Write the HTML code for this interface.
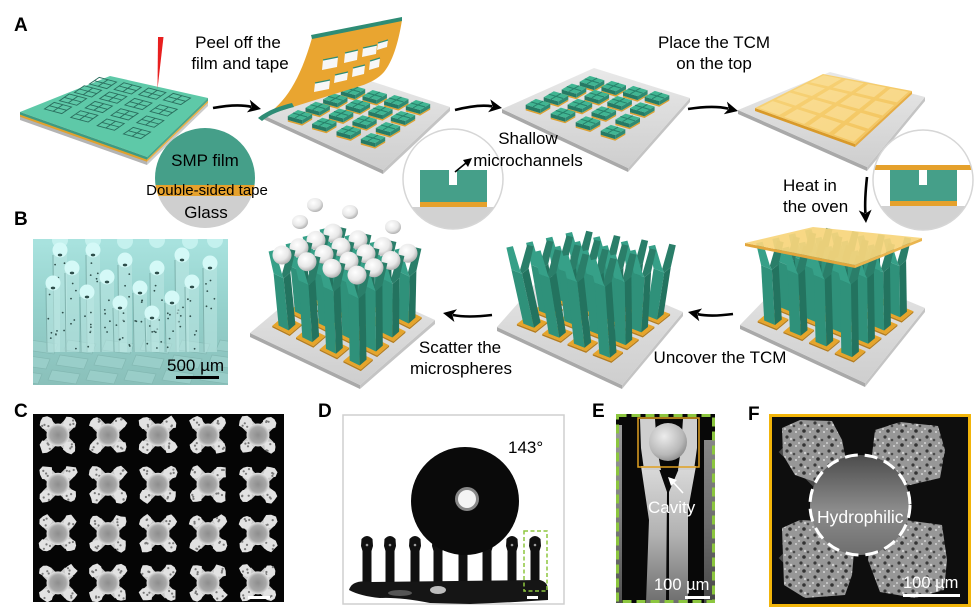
<!DOCTYPE html>
<html><head><meta charset="utf-8"><title>Figure</title>
<style>
html,body{margin:0;padding:0;background:#fff;width:975px;height:609px;overflow:hidden}
svg{display:block}
text{font-family:"Liberation Sans",Arial,sans-serif;}
</style></head><body>
<svg width="975" height="609" viewBox="0 0 975 609" xmlns="http://www.w3.org/2000/svg">
<defs>
<linearGradient id="gplate" x1="0" y1="0" x2="0" y2="1"><stop offset="0" stop-color="#e9e9e9"/><stop offset="1" stop-color="#cecece"/></linearGradient>
<linearGradient id="gtcm" x1="0" y1="0" x2="1" y2="1"><stop offset="0" stop-color="#f8d67e"/><stop offset="1" stop-color="#f2c158"/></linearGradient>
<radialGradient id="gsph" cx="0.4" cy="0.35" r="0.7"><stop offset="0" stop-color="#ffffff"/><stop offset="0.6" stop-color="#e8e8e8"/><stop offset="1" stop-color="#a8a8a8"/></radialGradient>
<radialGradient id="gcs" cx="0.5" cy="0.5" r="0.5"><stop offset="0" stop-color="#8e8e8e"/><stop offset="0.7" stop-color="#a8a8a8"/><stop offset="0.9" stop-color="#cfcfcf"/><stop offset="1" stop-color="#e6e6e6"/></radialGradient>
<linearGradient id="gB" x1="0" y1="0" x2="0" y2="1"><stop offset="0" stop-color="#a9e3df"/><stop offset="0.5" stop-color="#94d0cb"/><stop offset="1" stop-color="#8ac0ba"/></linearGradient>
<linearGradient id="gleg" x1="0" y1="0" x2="0" y2="1"><stop offset="0" stop-color="#dadada"/><stop offset="0.5" stop-color="#b2b2b2"/><stop offset="1" stop-color="#6e6e6e"/></linearGradient>
<linearGradient id="gFs" x1="0" y1="0" x2="0" y2="1"><stop offset="0" stop-color="#4c4c4c"/><stop offset="0.55" stop-color="#8c8c8c"/><stop offset="1" stop-color="#6e6e6e"/></linearGradient>
<radialGradient id="gEs" cx="0.4" cy="0.35" r="0.7"><stop offset="0" stop-color="#ececec"/><stop offset="0.7" stop-color="#b8b8b8"/><stop offset="1" stop-color="#8a8a8a"/></radialGradient>
<pattern id="tex" width="14" height="14" patternUnits="userSpaceOnUse">
 <rect width="14" height="14" fill="#979797"/>
 <circle cx="3" cy="3" r="1.6" fill="#3a3a3a"/><circle cx="10" cy="6" r="1.3" fill="#4a4a4a"/><circle cx="6" cy="11" r="1.8" fill="#333"/><circle cx="12" cy="12" r="1" fill="#d6d6d6"/><circle cx="7" cy="5" r="1.2" fill="#cfcfcf"/><circle cx="1" cy="9" r="1" fill="#d2d2d2"/>
</pattern>
<clipPath id="ci1"><circle cx="205" cy="178" r="50"/></clipPath>
<clipPath id="ci2"><circle cx="453" cy="179" r="50"/></clipPath>
<clipPath id="ci3"><circle cx="923" cy="180" r="50"/></clipPath>
<clipPath id="cB"><rect x="33" y="239" width="195" height="146"/></clipPath>
<clipPath id="cE"><rect x="616" y="414" width="99" height="189"/></clipPath>
</defs>
<g id="gen"></g>

<g font-weight="bold" font-size="19" fill="#000">
<text x="14" y="31">A</text>
<text x="14" y="225">B</text>
<text x="14" y="417">C</text>
<text x="318" y="417">D</text>
<text x="592" y="417">E</text>
<text x="748" y="420">F</text>
</g>
<g font-size="17" fill="#000" text-anchor="middle">
<text x="238" y="48">Peel off the</text>
<text x="240" y="69">film and tape</text>
<text x="714" y="48">Place the TCM</text>
<text x="714" y="69">on the top</text>
<text x="528" y="144">Shallow</text>
<text x="528" y="166">microchannels</text>
<text x="460" y="353">Scatter the</text>
<text x="461" y="374">microspheres</text>
<text x="720" y="363">Uncover the TCM</text>
<text x="205" y="166">SMP film</text>
<text x="207" y="195" font-size="15">Double-sided tape</text>
<text x="206" y="218">Glass</text>
</g>
<g font-size="17" fill="#000">
<text x="783" y="191">Heat in</text>
<text x="783" y="212">the oven</text>
<text x="508" y="453">143°</text>
<text x="167" y="371">500 µm</text>
</g>
<g font-size="17" fill="#fff">
<text x="648" y="513">Cavity</text>
<text x="654" y="590" font-size="16.5">100 µm</text>
<text x="817" y="523" font-size="17.5">Hydrophilic</text>
<text x="903" y="588" font-size="16.5">100 µm</text>
</g>
</svg>
<script>
(function(){
const o=[];
const f=v=>(Math.round(v*10)/10);
const P=a=>a.map(p=>f(p[0])+','+f(p[1])).join(' ');
const poly=(a,fill,ex)=>o.push('<polygon points="'+P(a)+'" fill="'+fill+'" '+(ex||'')+'/>');
const add=(a,b,k)=>{if(k===undefined)k=1;return [a[0]+b[0]*k,a[1]+b[1]*k];};
const sub=(a,b)=>[a[0]-b[0],a[1]-b[1]];
const sc=(a,k)=>[a[0]*k,a[1]*k];
const bil=(c00,c10,c11,c01,s,t)=>[(1-s)*(1-t)*c00[0]+s*(1-t)*c10[0]+s*t*c11[0]+(1-s)*t*c01[0],(1-s)*(1-t)*c00[1]+s*(1-t)*c10[1]+s*t*c11[1]+(1-s)*t*c01[1]];
let seed=12345;const rnd=()=>{seed=(seed*16807)%2147483647;return (seed-1)/2147483646;};

function plate(L,B,R,T,th){
 poly([L,B,add(B,[0,th]),add(L,[0,th])],'#a9a9a9');
 poly([B,R,add(R,[0,th]),add(B,[0,th])],'#c4c4c4');
 poly([L,B,R,T],'url(#gplate)');
}
function arrow(x1,y1,x2,y2,bend,hl,hw,sw){
 hl=hl||13;hw=hw||6.5;sw=sw||2.6;
 const mx=(x1+x2)/2,my=(y1+y2)/2,dx=x2-x1,dy=y2-y1,L=Math.hypot(dx,dy);
 const nx=-dy/L,ny=dx/L,cx=mx+nx*bend,cy=my+ny*bend;
 let ux=x2-cx,uy=y2-cy;const l=Math.hypot(ux,uy);ux/=l;uy/=l;
 const bx=x2-ux*hl,by=y2-uy*hl;
 o.push('<path d="M'+x1+','+y1+' Q'+f(cx)+','+f(cy)+' '+f(bx+ux*3)+','+f(by+uy*3)+'" stroke="#000" stroke-width="'+sw+'" fill="none"/>');
 poly([[x2,y2],[bx-uy*hw,by+ux*hw],[bx+ux*3.5,by+uy*3.5],[bx+uy*hw,by-ux*hw]],'#000');
}

/* ---------- Plate 1 ---------- */
(function(){
 const L=[20,112],B=[147,157],R=[208,98],T=[110,76];
 poly([L,B,add(B,[0,8]),add(L,[0,8])],'#b4b4b4');
 poly([B,R,add(R,[0,8]),add(B,[0,8])],'#cbcbcb');
 poly([L,B,add(B,[0,4.8]),add(L,[0,4.8])],'#e0a12e');
 poly([B,R,add(R,[0,4.8]),add(B,[0,4.8])],'#e9b04a');
 poly([L,B,add(B,[0,2.6]),add(L,[0,2.6])],'#3c9a83');
 poly([B,R,add(R,[0,2.6]),add(B,[0,2.6])],'#47a88f');
 poly([L,B,R,T],'#5ec9a8');
 const c00=[58,108],c30=[137,133],c33=[177,99],c03=[103,83];
 const du=[25.5,6.8],dv=[14.2,-9.8],a=0.34;
 for(let i=0;i<4;i++)for(let j=0;j<4;j++){
  const c=bil(c00,c30,c33,c03,i/3,j/3);
  const p1=add(add(c,du,-a),dv,-a),p2=add(add(c,du,a),dv,-a),p3=add(add(c,du,a),dv,a),p4=add(add(c,du,-a),dv,a);
  o.push('<polygon points="'+P([p1,p2,p3,p4])+'" fill="none" stroke="#2a6e5e" stroke-width="0.9"/>');
  o.push('<path d="M'+P([add(c,du,-a)])+' L'+P([add(c,du,a)])+' M'+P([add(c,dv,-a)])+' L'+P([add(c,dv,a)])+'" stroke="#2a6e5e" stroke-width="0.9"/>');
 }
 poly([[158,37],[163.5,37],[157.5,89]],'#e81f1f');
})();

function blocks(c00,c30,c33,c03){
 const du=sc(add(sub(c30,c00),sub(c33,c03)),1/6), dv=sc(add(sub(c03,c00),sub(c33,c30)),1/6);
 const a=0.31,h=4;const list=[];
 for(let i=0;i<4;i++)for(let j=0;j<4;j++)list.push([i,j]);
 list.sort((x,y)=>(x[0]-x[1])-(y[0]-y[1]));
 for(const [i,j] of list){
  const c=bil(c00,c30,c33,c03,i/3,j/3);
  const p1=add(add(c,du,-a),dv,-a),p2=add(add(c,du,a),dv,-a),p3=add(add(c,du,a),dv,a),p4=add(add(c,du,-a),dv,a);
  const q1=add(p1,[0,h]),q2=add(p2,[0,h]),q3=add(p3,[0,h]);
  poly([q1,q2,q3,add(q3,[0,1.6]),add(q2,[0,1.6]),add(q1,[0,1.6])],'#dca030');
  poly([p1,p2,q2,q1],'#257a64');
  poly([p2,p3,q3,q2],'#2e8a72');
  poly([p1,p2,p3,p4],'#40b592');
  o.push('<path d="M'+P([add(c,du,-a)])+' L'+P([add(c,du,a)])+' M'+P([add(c,dv,-a)])+' L'+P([add(c,dv,a)])+'" stroke="#27806a" stroke-width="1"/>');
 }
}

/* ---------- Plate 2 ---------- */
plate([263,115],[383,170],[450,107],[343,72],4);
blocks([300,115],[373,138],[418,105],[353,90]);
o.push('<path d="M264,116 C285,104 300,80 312,38 L402,20 C398,45 392,62 384,72 C378,79 368,84 357,87 Z" fill="#e9a530"/>');
poly([[311,35],[402,17],[402,21],[312,39]],'#2e8c75');
o.push('<path d="M258,118 C268,110 280,106 292,103 L294,107 C282,110 270,114 262,121 Z" fill="#2e8c75"/>');
[[323,57,338,70],[345,50,358,63],[363,45,377,57],[378,40,388,50],[315,80,330,92],[335,72,348,83],[353,65,365,77],[370,58,380,70]].forEach(w=>{
 poly([[w[0],w[1]+3],[w[2],w[1]],[w[2]-1,w[3]-3],[w[0]-1,w[3]]],'#f7f7f7');
 o.push('<path d="M'+w[0]+','+(w[1]+3)+' L'+w[2]+','+w[1]+'" stroke="#2e8c75" stroke-width="1.2"/>');
});

/* ---------- Plate 3 ---------- */
plate([502,109],[628,168],[690,98],[594,68],4);
blocks([538,104],[613,130],[657,96],[592,81]);

/* ---------- Plate 4 ---------- */
(function(){
 plate([738,110],[867,167],[925,97],[830,72],4);
 const tL=[755,108],tB=[855,144],tR=[912,91],tT=[823,74];
 poly([tL,tB,add(tB,[0,3]),add(tL,[0,3])],'#d99a2a');
 poly([tB,tR,add(tR,[0,3]),add(tB,[0,3])],'#e6ad45');
 poly([tL,tB,tR,tT],'url(#gtcm)');
 for(let i=0;i<4;i++)for(let j=0;j<4;j++){
  const s=(i+0.5)/4,t=(j+0.5)/4,d=0.1;
  poly([bil(tL,tB,tR,tT,s-d,t-d),bil(tL,tB,tR,tT,s+d,t-d),bil(tL,tB,tR,tT,s+d,t+d),bil(tL,tB,tR,tT,s-d,t+d)],'#fce6a8','opacity="0.55"');
 }
})();

/* ---------- Insets ---------- */
o.push('<g clip-path="url(#ci1)"><rect x="150" y="120" width="110" height="66" fill="#459f89"/><rect x="150" y="185" width="110" height="11" fill="#e5a12c"/><rect x="150" y="196" width="110" height="40" fill="#cfcfcf"/></g>');
o.push('<circle cx="453" cy="179" r="50" fill="#fff"/><g clip-path="url(#ci2)"><rect x="420" y="170" width="67" height="32" fill="#459f89"/><rect x="449" y="169" width="8" height="16" fill="#fff"/><rect x="420" y="202" width="67" height="5" fill="#e5a12c"/><rect x="400" y="207" width="110" height="30" fill="#d2d2d2"/></g><circle cx="453" cy="179" r="50" fill="none" stroke="#d6d6d6" stroke-width="1.5"/>');
o.push('<path d="M455,172 L466,163" stroke="#000" stroke-width="1.6"/>');
poly([[472,158],[463,160],[468,167]],'#000');
o.push('<circle cx="923" cy="180" r="50" fill="#fff"/><g clip-path="url(#ci3)"><rect x="870" y="165" width="110" height="5" fill="#e5a12c"/><rect x="890" y="170" width="67" height="31" fill="#459f89"/><rect x="919" y="170" width="8" height="15" fill="#fff"/><rect x="890" y="201" width="67" height="5" fill="#e5a12c"/><rect x="870" y="206" width="110" height="30" fill="#d2d2d2"/></g><circle cx="923" cy="180" r="50" fill="none" stroke="#d6d6d6" stroke-width="1.5"/>');

/* ---------- Pillars ---------- */
const FH=22;
function pillar(base,T,su,sv,fh){
 const cA=[-su[0]-sv[0],-su[1]-sv[1]],cF=[su[0]-sv[0],su[1]-sv[1]],cC=[su[0]+sv[0],su[1]+sv[1]];
 const A=add(T,cA),F=add(T,cF),C=add(T,cC);
 poly([A,add(base,cA),add(base,cF),F],'#2f917a');
 poly([F,add(base,cF),add(base,cC),C],'#23735f');
 const N=add(T,[0,1]);
 poly([A,add(A,[-5,-fh]),add(A,[1.5,-fh-1.5]),N,F],'#36a088');
 poly([F,N,add(C,[-1.5,-fh-1.5]),add(C,[5,-fh]),C],'#2a7e69');
}
function pillarPlate(L,B,R,T,baseF,topF,si,sj,sph){
 plate(L,B,R,T,4);
 const su=sc(si,0.21),sv=sc(sj,0.21);
 const list=[];for(let i=0;i<4;i++)for(let j=0;j<4;j++)list.push([i,j]);
 list.sort((x,y)=>(x[0]-x[1])-(y[0]-y[1]));
 for(const [i,j] of list){const b=baseF(i,j);
  const k=1.75;
  const q=[add(add(b,su,-k),sv,-k),add(add(b,su,k),sv,-k),add(add(b,su,k),sv,k),add(add(b,su,-k),sv,k)];
  poly([q[0],q[1],q[2],add(q[2],[0,1.6]),add(q[1],[0,1.6]),add(q[0],[0,1.6])],'#b57d1e');
  poly(q,'#e6a52b');
 }
 for(const [i,j] of list){
  pillar(baseF(i,j),topF(i,j),su,sv,FH);
  if(sph){const s=sph(i,j);o.push('<circle cx="'+f(s[0])+'" cy="'+f(s[1])+'" r="9.5" fill="url(#gsph)"/>');}
 }
}
// plate 7 (spheres)
pillarPlate([250,333],[360,385],[435,320],[325,270],
 (i,j)=>[287+23.7*i+16.3*j,325+11.7*i-14*j],
 (i,j)=>[282+25*i+17*j,255+6.7*i-7.3*j+18],
 [23.7,11.7],[16.3,-14],
 (i,j)=>[282+25*i+17*j,255+6.7*i-7.3*j]);
[[315,205],[350,212],[300,222],[393,227]].forEach(s=>o.push('<ellipse cx="'+s[0]+'" cy="'+s[1]+'" rx="8" ry="7" fill="url(#gsph)"/>'));
// plate 6
pillarPlate([497,327],[622,385],[683,312],[558,258],
 (i,j)=>[532+25.3*i+15.7*j,323+10*i-12.7*j],
 (i,j)=>[520+27.7*i+19.7*j,247+4.3*i-4.7*j+FH],
 [25.3,10],[15.7,-12.7]);
// plate 5
(function(){
 const tL=[745,243],tB=[855,265],tR=[922,238],tT=[813,227];
 pillarPlate([740,325],[865,383],[925,308],[805,258],
  (i,j)=>[773+25.7*i+16*j,320+10.7*i-13.3*j],
  (i,j)=>add(bil(tL,tB,tR,tT,0.14+0.24*i,0.14+0.24*j),[0,21]),
  [25.7,10.7],[16,-13.3]);
 poly([tL,tB,add(tB,[0,3]),add(tL,[0,3])],'#e2a63c');
 poly([tB,tR,add(tR,[0,3]),add(tB,[0,3])],'#eab54f');
 poly([tL,tB,tR,tT],'#f7d57c','opacity="0.93"');
})();

/* ---------- Arrows ---------- */
arrow(213,108,261,109,-5);
arrow(455,110,502,108,-5);
arrow(688,109,738,111,-5);
arrow(867,177,866,223,2);
arrow(733,314,688,312,-4);
arrow(492,315,443,313,-4);

/* ---------- Panel B ---------- */
o.push('<rect x="33" y="239" width="195" height="146" fill="url(#gB)"/>');
o.push('<g clip-path="url(#cB)">');
for(let r=0;r<3;r++)for(let c=0;c<6;c++){
 const x=30+c*38-r*8, y=340+r*15;
 poly([[x,y],[x+28,y+4],[x+24,y+14],[x-4,y+10]],'#9fd3ce','stroke="#7fb3ad" stroke-width="0.7" opacity="0.7"');
}
[[60,240],[93,240],[125,241],[157,240],[190,241],[215,240]].forEach(s=>o.push('<circle cx="'+s[0]+'" cy="'+s[1]+'" r="8" fill="#c4f1ee"/>'));
const bs=[[60,250],[93,250],[125,260],[157,268],[182,255],[210,263],[72,268],[107,277],[140,288],[192,282],[53,283],[87,292],[120,303],[172,298],[152,313]];
bs.forEach(s=>{
 o.push('<rect x="'+(s[0]-7)+'" y="'+s[1]+'" width="14" height="'+(352-s[1])+'" fill="#bde7e3" opacity="0.55"/>');
 o.push('<path d="M'+(s[0]-7)+','+(s[1]+5)+' L'+(s[0]-6)+',352" stroke="#6a9f9a" stroke-width="1" opacity="0.7"/>');
 for(let k=0;k<6;k++){o.push('<circle cx="'+f(s[0]-5+rnd()*10)+'" cy="'+f(s[1]+10+rnd()*(340-s[1]))+'" r="0.9" fill="#2f4f4c"/>');}
});
bs.forEach(s=>{
 o.push('<circle cx="'+s[0]+'" cy="'+s[1]+'" r="7.5" fill="#d4f9f7"/>');
 o.push('<ellipse cx="'+s[0]+'" cy="'+(s[1]+5)+'" rx="2.2" ry="1.4" fill="#2d4d4a"/>');
});
o.push('</g>');
o.push('<rect x="176" y="376" width="43" height="3" fill="#000"/>');

/* ---------- Panel C ---------- */
o.push('<rect x="33" y="414" width="251" height="188" fill="#050505"/>');
function blob(cx,cy,r,fill){const pts=[];const n=9;for(let k=0;k<n;k++){const ang=k/n*2*Math.PI;const rr=r*(0.8+0.4*rnd());pts.push([cx+rr*Math.cos(ang),cy+rr*Math.sin(ang)]);}poly(pts,fill);}
for(let r=0;r<4;r++)for(let c=0;c<5;c++){
 const cx=58+50*c, cy=435+49.3*r;
 o.push('<g transform="translate('+f(cx)+','+f(cy)+') rotate(45)"><rect x="-16" y="-6" width="32" height="12" fill="#c9c9c9"/><rect x="-6" y="-16" width="12" height="32" fill="#c9c9c9"/></g>');
 [[-12,-12],[12,-12],[-12,12],[12,12]].forEach(d=>{
  blob(cx+d[0],cy+d[1],6.5,'#e2e2e2');
  for(let k=0;k<3;k++)o.push('<circle cx="'+f(cx+d[0]-4+rnd()*8)+'" cy="'+f(cy+d[1]-4+rnd()*8)+'" r="1.1" fill="#7a7a7a"/>');
 });
 o.push('<circle cx="'+f(cx)+'" cy="'+f(cy)+'" r="11.5" fill="url(#gcs)"/>');
}
o.push('<rect x="248" y="596" width="22" height="3" fill="#fff"/>');

/* ---------- Panel D ---------- */
o.push('<rect x="343" y="415" width="221" height="189" fill="#fff" stroke="#cfcfcf" stroke-width="1.5"/>');
[367,390,415,438,463,487,512,535].forEach(x=>{
 o.push('<path d="M'+(x-4.5)+',586 L'+(x-4.5)+',551 L'+(x-6)+',546 L'+(x-5.5)+',539 Q'+x+',533 '+(x+5.5)+',539 L'+(x+6)+',546 L'+(x+4.5)+',551 L'+(x+4.5)+',586 Z" fill="#101010"/>');
 o.push('<circle cx="'+x+'" cy="545" r="1.3" fill="#9a9a9a"/>');
});
o.push('<path d="M349,590 Q352,579 372,582 L540,580 Q548,582 548,590 L548,600 Q500,603 470,604 L430,603 Q400,597 380,598 Q360,596 349,590 Z" fill="#151515"/>');
o.push('<ellipse cx="438" cy="590" rx="8" ry="4" fill="#bdbdbd"/><ellipse cx="400" cy="593" rx="12" ry="3" fill="#555"/>');
o.push('<circle cx="465" cy="501" r="54" fill="#0a0a0a"/>');
o.push('<circle cx="467" cy="499" r="12" fill="#888"/><circle cx="467" cy="499" r="9" fill="#f4f4f4"/>');
o.push('<rect x="524" y="531" width="23" height="60" fill="none" stroke="#8dc63f" stroke-width="1.5" stroke-dasharray="4 2.5"/>');
o.push('<rect x="527" y="596" width="11" height="3" fill="#fff"/>');

/* ---------- Panel E ---------- */
o.push('<rect x="616" y="414" width="99" height="189" fill="#080808"/>');
o.push('<g clip-path="url(#cE)">');
o.push('<rect x="612" y="425" width="10" height="180" fill="url(#gleg)" opacity="0.7"/>');
o.push('<rect x="704" y="440" width="14" height="165" fill="url(#gleg)" opacity="0.6"/>');
o.push('<path d="M641,466 L658,466 L667,492 L666,603 L646,603 L649,520 Z" fill="url(#gleg)"/>');
o.push('<path d="M680,466 L696,466 L688,510 L688,603 L669,603 L669,492 Z" fill="url(#gleg)"/>');
o.push('<path d="M640,419 L655,419 L657,448 L661,470 L644,470 L641,448 Z" fill="#cfcfcf"/>');
o.push('<path d="M683,419 L697,419 L697,448 L694,470 L678,470 L681,448 Z" fill="#cfcfcf"/>');
o.push('<circle cx="668" cy="442" r="19" fill="url(#gEs)"/>');
o.push('</g>');
o.push('<rect x="638" y="418" width="61" height="49" fill="none" stroke="#e0a020" stroke-width="1.5"/>');
o.push('<path d="M683,493 L673,482" stroke="#fff" stroke-width="1.6"/>');
poly([[668,477],[677,480],[671,486]],'#fff');
o.push('<rect x="685" y="596" width="25" height="3" fill="#fff"/>');
o.push('<rect x="617.5" y="415.5" width="96" height="186" fill="none" stroke="#8cc63f" stroke-width="3" stroke-dasharray="9 5"/>');

/* ---------- Panel F ---------- */
o.push('<rect x="770.5" y="415.5" width="199" height="190" fill="#0e0e0e" stroke="#f2b50a" stroke-width="3"/>');
o.push('<g transform="translate(860,505) rotate(45)"><rect x="-95" y="-20" width="190" height="40" fill="#4a4a4a"/><rect x="-20" y="-95" width="40" height="190" fill="#4a4a4a"/></g>');
['M782,428 L800,420 L832,421 L842,440 L848,470 L835,485 L815,482 L795,475 L783,455 Z',
 'M875,430 L900,422 L938,426 L945,450 L940,478 L910,485 L880,478 L872,455 Z',
 'M782,528 L800,520 L840,522 L855,540 L852,575 L845,595 L805,598 L784,585 Z',
 'M872,528 L905,520 L942,525 L947,560 L944,590 L915,598 L880,592 L868,560 Z'].forEach(d=>o.push('<path d="'+d+'" fill="url(#tex)"/>'));
o.push('<circle cx="860" cy="505" r="50" fill="url(#gFs)"/>');
o.push('<circle cx="860" cy="505" r="50" fill="none" stroke="#fff" stroke-width="3" stroke-dasharray="13 7"/>');
o.push('<rect x="903" y="594" width="57" height="3" fill="#fff"/>');

document.getElementById('gen').innerHTML=o.join('');
})();
</script>
</body></html>
